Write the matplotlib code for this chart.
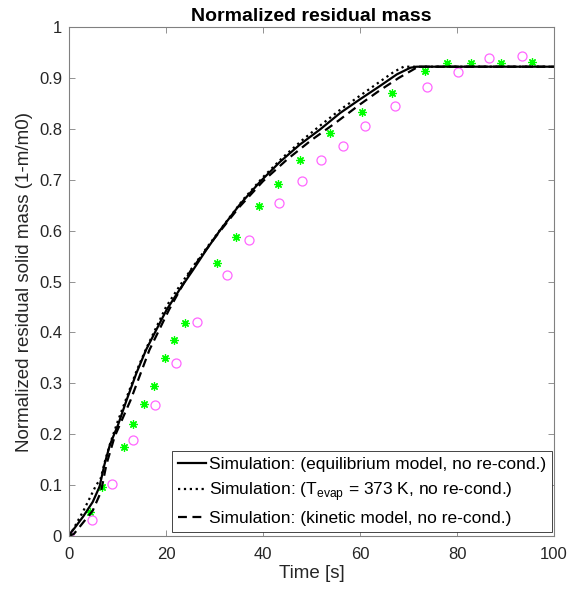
import matplotlib
matplotlib.use('Agg')
import matplotlib.pyplot as plt

plt.rcParams['font.family'] = ['Liberation Sans', 'DejaVu Sans']

# simulation curves
t_eq = [0, 0.5, 1.1, 2.9, 4.9, 6.3, 7.3, 8.4, 9.4, 10.1, 11.8, 13.9, 15.9, 18.0, 20.1, 22.8, 25.6,
        28.3, 31.1, 35.2, 39.4, 43.5, 47.6, 51.8, 55.9, 60, 64.1, 67.6, 70.4, 71.7, 100]
m_eq = [0, 0.008, 0.015, 0.038, 0.067, 0.097, 0.14, 0.178, 0.202, 0.218, 0.265, 0.32, 0.366, 0.405,
        0.444, 0.484, 0.523, 0.562, 0.6, 0.651, 0.696, 0.735, 0.769, 0.799, 0.831, 0.858, 0.884,
        0.907, 0.920, 0.922, 0.922]

t_iso = [0, 0.8, 3, 5.6, 6.5, 7.5, 8.5, 10, 12, 14, 16, 18, 20, 23, 26, 29, 32, 36, 40, 44, 48,
         52, 56, 60, 64, 67, 69, 100]
m_iso = [0, 0.012, 0.05, 0.1, 0.112, 0.15, 0.182, 0.224, 0.275, 0.326, 0.37, 0.41, 0.45, 0.494,
         0.535, 0.574, 0.612, 0.662, 0.705, 0.743, 0.777, 0.808, 0.838, 0.865, 0.892, 0.912, 0.922,
         0.922]

t_kin = [0, 1, 2.2, 4.9, 6.6, 7.7, 9.4, 12.7, 16.6, 20.6, 25, 30, 35, 40, 45, 50, 55, 60, 64, 68,
         72, 100]
m_kin = [0, 0.004, 0.018, 0.05, 0.087, 0.14, 0.195, 0.267, 0.366, 0.444, 0.52, 0.585, 0.645, 0.697,
         0.74, 0.778, 0.812, 0.848, 0.875, 0.90, 0.922, 0.922]

# experiments
t_exp1 = [0, 4.4, 6.8, 11.3, 13.2, 15.5, 17.6, 19.8, 21.7, 23.9, 30.6, 34.5, 39.1, 43.1, 47.6,
          53.9, 60.4, 66.7, 73.5, 78.0, 82.8, 89.0, 95.4]
m_exp1 = [0, 0.047, 0.096, 0.174, 0.221, 0.259, 0.295, 0.349, 0.385, 0.419, 0.537, 0.588, 0.648,
          0.691, 0.738, 0.791, 0.833, 0.871, 0.913, 0.930, 0.929, 0.929, 0.932]

t_exp2 = [0, 4.7, 8.8, 13.1, 17.7, 22.0, 26.3, 32.6, 37.1, 43.4, 48.0, 52.0, 56.4, 61.0, 67.2,
          73.8, 80.3, 86.7, 93.5]
m_exp2 = [0, 0.032, 0.102, 0.189, 0.258, 0.339, 0.421, 0.512, 0.582, 0.654, 0.697, 0.738, 0.767,
          0.806, 0.844, 0.882, 0.911, 0.940, 0.943]

labels = ["Simulation: (equilibrium model, no re-cond.)",
          "Simulation: (T$_{\\mathregular{evap}}$ = 373 K, no re-cond.)",
          "Simulation: (kinetic model, no re-cond.)"]

fig = plt.figure(figsize=(5.78, 5.96), dpi=100)
ax = fig.add_axes([69 / 578, 60 / 596, 485 / 578, 509 / 596])

ax.plot(t_exp1, m_exp1, linestyle='none', marker=(8, 2, 0), ms=6, mew=0.9, color='#00ff00')
ax.plot(t_exp2, m_exp2, linestyle='none', marker='o', ms=6.5, mew=0.9, mfc='none', mec='#ff66ff')

ax.plot(t_eq, m_eq, '-', color='k', lw=1.6, label=labels[0])
ax.plot(t_iso, m_iso, ':', color='k', lw=1.6, label=labels[1])
ax.plot(t_kin, m_kin, color='k', lw=1.6, dashes=(4, 2.5), label=labels[2])

ax.set_xlim(0, 100)
ax.set_ylim(0, 1)
ax.set_xticks([0, 20, 40, 60, 80, 100])
ax.set_yticks([0, 0.1, 0.2, 0.3, 0.4, 0.5, 0.6, 0.7, 0.8, 0.9, 1])
ax.set_yticklabels(["0", "0.1", "0.2", "0.3", "0.4", "0.5", "0.6", "0.7", "0.8", "0.9", "1"])
ax.tick_params(direction='in', top=True, right=True, length=4, width=0.6, color='#808080',
               labelsize=12, labelcolor='#262626')
ax.tick_params(axis='x', pad=8)
ax.tick_params(axis='y', pad=5)
for s in ax.spines.values():
    s.set_color('#808080')
    s.set_linewidth(0.8)

ax.set_xlabel("Time [s]", fontsize=13.5, color='#262626', labelpad=2)
ax.set_ylabel("Normalized residual solid mass (1-m/m0)", fontsize=13.5, color='#262626', labelpad=4)
ax.set_title("Normalized residual mass", fontsize=14, fontweight='bold', pad=4)

leg = ax.legend(loc='lower right', bbox_to_anchor=(0.996, 0.008), borderaxespad=0, fontsize=12.5,
                handlelength=1.6, handletextpad=0.15, labelspacing=0.45, fancybox=False,
                framealpha=1, borderpad=0.35)
leg.get_frame().set_edgecolor('#262626')
leg.get_frame().set_linewidth(0.6)

plt.savefig("out.png", dpi=100)
plt.close()
